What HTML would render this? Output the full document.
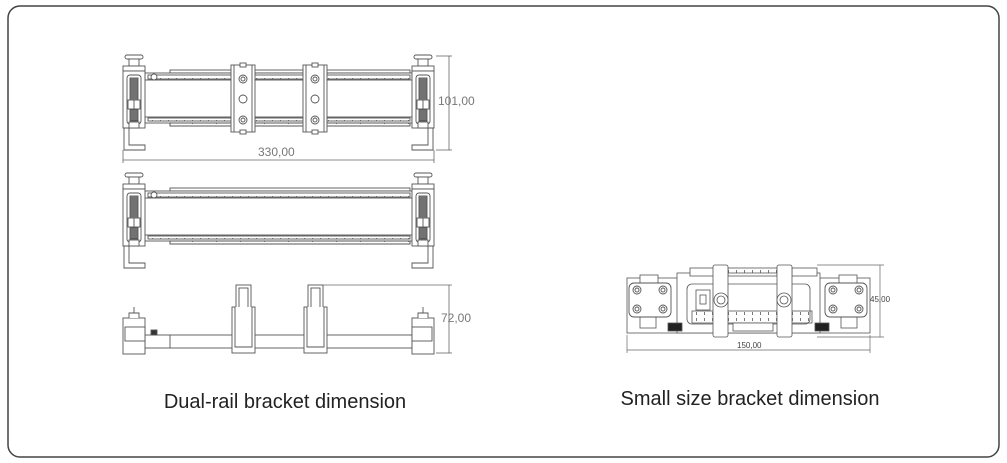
<!DOCTYPE html>
<html><head><meta charset="utf-8"><style>
html,body{margin:0;padding:0;background:#fff;}
svg{display:block;}
text{font-family:"Liberation Sans",sans-serif;}
</style></head><body>
<svg width="1007" height="463" viewBox="0 0 1007 463" xmlns="http://www.w3.org/2000/svg">
<defs>
<pattern id="tk" x="0" y="0" width="8" height="6" patternUnits="userSpaceOnUse"><line x1="0.5" y1="0" x2="0.5" y2="3" stroke="#555" stroke-width="0.8"/></pattern>
<pattern id="tk2" x="0" y="0" width="24" height="6" patternUnits="userSpaceOnUse"><line x1="0.5" y1="0" x2="0.5" y2="4" stroke="#555" stroke-width="0.8"/></pattern>
<pattern id="sp" x="0" y="0" width="4" height="2" patternUnits="userSpaceOnUse"><rect width="4" height="2" fill="#555"/><line x1="0" y1="1" x2="4" y2="1" stroke="#aaa" stroke-width="0.7"/></pattern>
<g id="brk" fill="#fff" stroke="#555" stroke-width="0.9">
  <rect x="125" y="55" width="18" height="4" rx="2"/>
  <rect x="129" y="59" width="10" height="7"/>
  <rect x="123" y="66" width="22" height="5"/>
  <rect x="123" y="71" width="22" height="57"/>
  <rect x="127" y="75" width="14" height="49" rx="3"/>
  <rect x="130" y="78" width="8" height="43" fill="url(#sp)"/>
  <rect x="128" y="100" width="12" height="9"/>
  <line x1="134" y1="100" x2="134" y2="109"/>
  <rect x="129" y="122" width="10" height="6"/>
  <path d="M124 128 V150 H145 V145 H129 V128 Z"/>
</g>
<g id="rails" stroke="#555" stroke-width="0.9" fill="#fff">
  <rect x="170" y="70" width="240" height="3"/>
  <rect x="145" y="73" width="267" height="7"/>
  <rect x="148" y="75" width="262" height="4" fill="url(#tk)"/>
  <circle cx="154" cy="77" r="3"/>
  <rect x="145" y="117" width="267" height="6"/>
  <rect x="148" y="118" width="262" height="3" fill="url(#tk)"/>
  <rect x="170" y="123" width="240" height="3"/>
  <rect x="170" y="123" width="240" height="3" fill="url(#tk2)"/>
</g>
<g id="car" fill="#fff" stroke="#555" stroke-width="0.9">
  <rect x="0" y="0" width="24" height="67"/>
  <line x1="3" y1="0" x2="3" y2="67"/><line x1="21" y1="0" x2="21" y2="67"/>
  <rect x="9" y="-2" width="6" height="4"/><rect x="9" y="65" width="6" height="4"/>
  <circle cx="12" cy="14" r="4"/><circle cx="12" cy="14" r="2"/>
  <circle cx="12" cy="34" r="4"/>
  <circle cx="12" cy="55" r="4"/><circle cx="12" cy="55" r="2"/>
</g>
<g id="side" fill="#fff" stroke="#555" stroke-width="0.9">
  <rect x="0" y="22" width="23" height="46"/>
  <rect x="4" y="0" width="15" height="48"/>
  <rect x="7" y="3" width="9" height="40"/>
  <rect x="6" y="44" width="11" height="5" rx="2"/>
  <rect x="6" y="51" width="11" height="5" rx="2"/>
  <path d="M3 22 V62 H20 V22"/>
</g>
<g id="blk" fill="#fff" stroke="#555" stroke-width="0.9">
  <rect x="0" y="0" width="42" height="34" rx="5"/>
  <circle cx="8" cy="7" r="4"/><circle cx="8" cy="7" r="2"/>
  <circle cx="34" cy="7" r="4"/><circle cx="34" cy="7" r="2"/>
  <circle cx="8" cy="26" r="4"/><circle cx="8" cy="26" r="2"/>
  <circle cx="34" cy="26" r="4"/><circle cx="34" cy="26" r="2"/>
</g>
</defs>

<rect x="8" y="6" width="991" height="451" rx="12" fill="#fff" stroke="#444" stroke-width="1.5"/>

<use href="#rails"/>
<use href="#brk"/>
<use href="#brk" transform="translate(557 0) scale(-1 1)"/>
<use href="#car" x="231" y="65"/>
<use href="#car" x="303" y="65"/>
<g stroke="#666" stroke-width="0.8" fill="none">
  <line x1="436" y1="56" x2="452" y2="56"/><line x1="436" y1="150" x2="452" y2="150"/>
  <line x1="449" y1="56" x2="449" y2="150"/>
  <line x1="123" y1="150" x2="123" y2="163"/><line x1="434" y1="150" x2="434" y2="163"/>
  <line x1="123" y1="160" x2="434" y2="160"/>
</g>
<text x="438" y="105" font-size="12" fill="#777">101,00</text>
<text x="258" y="156" font-size="12" fill="#777">330,00</text>

<g transform="translate(0 118)">
<use href="#rails"/>
<use href="#brk"/>
<use href="#brk" transform="translate(557 0) scale(-1 1)"/>
</g>

<g fill="#fff" stroke="#555" stroke-width="0.9">
  <rect x="145" y="335" width="267" height="13"/>
  <line x1="170" y1="335" x2="170" y2="348"/>
  <rect x="151" y="330" width="6" height="5" fill="#333"/>
  <rect x="123" y="318" width="22" height="36"/>
  <rect x="125" y="327" width="20" height="14"/>
  <path d="M129 318 V313 H139 V318"/><line x1="134" y1="313" x2="134" y2="307"/>
  <rect x="412" y="318" width="22" height="36"/>
  <rect x="412" y="327" width="20" height="14"/>
  <path d="M418 318 V313 H428 V318"/><line x1="423" y1="313" x2="423" y2="307"/>
</g>
<use href="#side" x="232" y="285"/>
<use href="#side" x="304" y="285"/>
<g stroke="#666" stroke-width="0.8">
  <line x1="318" y1="285" x2="452" y2="285"/>
  <line x1="436" y1="353" x2="452" y2="353"/>
  <line x1="449" y1="285" x2="449" y2="353"/>
</g>
<text x="441" y="322" font-size="12" fill="#777">72,00</text>

<g fill="#fff" stroke="#555" stroke-width="0.8">
  <rect x="627" y="278" width="243" height="55"/>
  <rect x="677" y="273" width="143" height="60"/>
  <rect x="687" y="284" width="123" height="40" rx="5"/>
  <rect x="690" y="268" width="25" height="8"/>
  <rect x="728" y="268" width="49" height="8" fill="url(#tk)"/>
  <rect x="792" y="268" width="25" height="8"/>
  <rect x="692" y="311" width="120" height="12" fill="url(#tk)"/>
  <rect x="733" y="323" width="40" height="8"/>
  <rect x="696" y="290" width="14" height="20"/><rect x="700" y="295" width="6" height="9"/>
  <rect x="640" y="275" width="18" height="8"/><rect x="839" y="275" width="18" height="8"/>
  <rect x="640" y="316" width="16" height="12"/><rect x="841" y="316" width="16" height="12"/>
  <rect x="668" y="323" width="14" height="8" fill="#222"/><rect x="815" y="323" width="14" height="8" fill="#222"/>
</g>
<use href="#blk" x="629" y="283"/>
<use href="#blk" x="825" y="283"/>
<g fill="#fff" stroke="#555" stroke-width="0.8">
  <rect x="713" y="265" width="15" height="72" rx="2"/>
  <circle cx="721" cy="300" r="7"/><circle cx="721" cy="300" r="4"/>
  <rect x="777" y="265" width="15" height="72" rx="2"/>
  <circle cx="784" cy="300" r="7"/><circle cx="784" cy="300" r="4"/>
</g>
<g stroke="#666" stroke-width="0.7">
  <line x1="817" y1="265" x2="884" y2="265"/><line x1="817" y1="337" x2="884" y2="337"/>
  <line x1="880" y1="265" x2="880" y2="337"/>
  <line x1="627" y1="335" x2="627" y2="353"/><line x1="870" y1="335" x2="870" y2="353"/>
  <line x1="627" y1="350" x2="870" y2="350"/>
</g>
<text x="870" y="302" font-size="8" fill="#444">45,00</text>
<text x="737" y="348" font-size="8" fill="#444">150,00</text>

<text x="285" y="408" font-size="20" fill="#222" text-anchor="middle">Dual-rail bracket dimension</text>
<text x="750" y="405" font-size="20" fill="#222" text-anchor="middle">Small size bracket dimension</text>
</svg>
</body></html>
